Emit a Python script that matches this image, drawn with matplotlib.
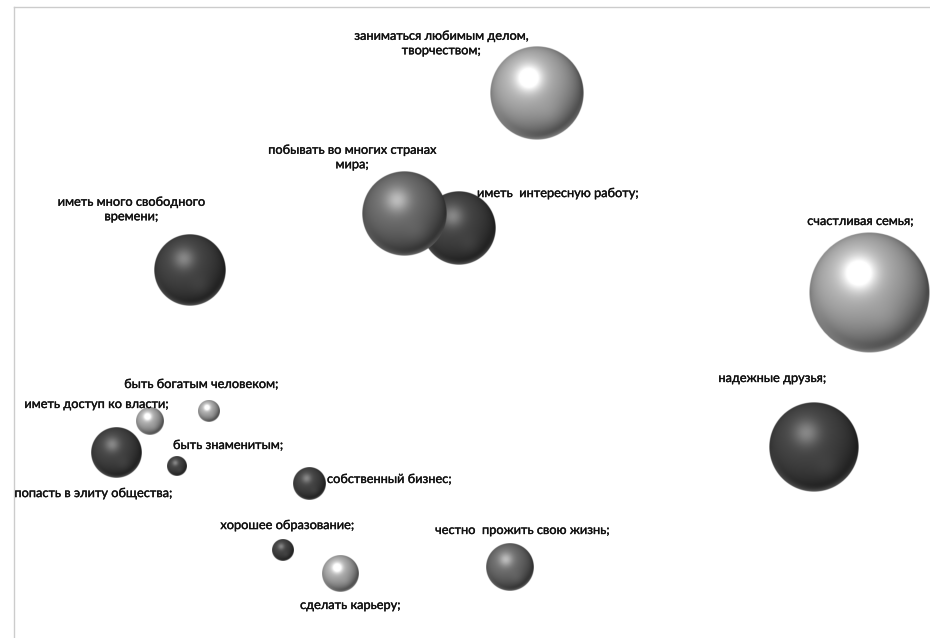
import numpy as np
import matplotlib
matplotlib.use("Agg")
import matplotlib.pyplot as plt
import matplotlib.patheffects as pe

# ---- data ----
labels = [
    "заниматься любимым делом,\nтворчеством;",
    "иметь  интересную работу;",
    "побывать во многих странах\nмира;",
    "иметь много свободного\nвремени;",
    "счастливая семья;",
    "надежные друзья;",
    "честно  прожить свою жизнь;",
    "быть богатым человеком;",
    "иметь доступ ко власти;",
    "попасть в элиту общества;",
    "быть знаменитым;",
    "собственный бизнес;",
    "хорошее образование;",
    "сделать карьеру;",
]
x_vals = [52.3, 44.5, 39.0, 17.6, 85.5, 80.0, 49.6, 19.5, 13.6, 10.2, 16.3, 29.5, 26.9, 32.6]
y_vals = [54.5, 41.0, 42.4, 36.8, 34.5, 19.1, 7.1, 22.7, 21.7, 18.5, 17.2, 15.4, 8.8, 6.4]
sizes = [60.3, 37.4, 48.2, 35.4, 100.0, 55.3, 15.1, 3.3, 5.0, 17.1, 2.7, 7.4, 3.3, 8.9]
tones = ["light", "dark", "mid", "dark", "light", "dark", "mid",
         "light", "light", "dark", "dark", "dark", "dark", "light"]

# ---- styles ----
label_offsets = [  # (dx px, dy px, ha)
    (-96, 50, "center"), (18, 35, "left"), (-52, 57, "center"), (-59, 61, "center"),
    (-9, 72, "center"), (-42, 69, "center"), (12, 37, "center"), (-8, 27, "center"),
    (18, 17, "right"), (-23, -40, "center"), (-4, 21, "left"), (18, 5, "left"),
    (4, 25, "center"), (10, -31, "center"),
]
tone_style = {
    "light": dict(base=0.72, spec=0.48, sw=0.19, diff=0.62),
    "mid": dict(base=0.46, spec=0.28, sw=0.2, diff=0.6),
    "dark": dict(base=0.29, spec=0.24, sw=0.2, diff=0.6),
}
RMAX = 6.05  # radius (data units) for size 100


def sphere_image(st, n=220):
    t = np.linspace(-1, 1, n)
    X, Y = np.meshgrid(t, t)  # Y up (origin lower)
    R2 = X**2 + Y**2
    R = np.sqrt(R2)
    Z = np.sqrt(np.clip(1 - R2, 0, 1))
    L = np.array([-0.28, 0.38, 0.88])
    L = L / np.linalg.norm(L)
    d = np.clip(X * L[0] + Y * L[1] + Z * L[2], 0, 1)
    hx, hy = -0.17, 0.32
    spec = np.exp(-((X - hx)**2 + (Y - hy)**2) / (2 * st["sw"]**2))
    rim = np.clip((R - 0.82) / 0.18, 0, 1)**2 * np.clip(-Y / np.maximum(R, 1e-6), 0, 1)
    sec = np.exp(-((X - 0.3)**2 + (Y + 0.45)**2) / (2 * 0.2**2))
    v = st["base"] * (0.4 + st["diff"] * d) + st["spec"] * spec + 0.25 * rim + 0.04 * sec
    v = np.clip(v, 0, 1)
    alpha = np.clip((1 - R) * n / 2.0, 0, 1)
    return np.dstack([v, v, v, alpha])


fig = plt.figure(figsize=(9.3, 6.38), dpi=100)
ax = fig.add_axes([14 / 930, 0, 916 / 930, 631 / 638])
ax.set_xticks([])
ax.set_yticks([])
for s in ["right", "bottom"]:
    ax.spines[s].set_visible(False)
for s in ["top", "left"]:
    ax.spines[s].set_color("#cccccc")
    ax.spines[s].set_linewidth(1.0)

for i, (x, y, sz, tone) in enumerate(zip(x_vals, y_vals, sizes, tones)):
    r = RMAX * np.sqrt(sz / 100.0)
    img = sphere_image(tone_style[tone])
    ax.imshow(img, extent=[x - r, x + r, y - r, y + r], origin="lower",
              interpolation="bilinear", zorder=2 + i, aspect="auto")

ax.set_xlim(0, 91.6)
ax.set_ylim(0, 63.1)

for lab, x, y, (dx, dy, ha) in zip(labels, x_vals, y_vals, label_offsets):
    ax.annotate(lab, (x, y), xytext=(dx, dy), textcoords="offset pixels",
                ha=ha, va="center", fontsize=9.2, family=["Lato", "DejaVu Sans"],
                color="#111111", linespacing=1.25, zorder=50, annotation_clip=False,
                path_effects=[pe.withStroke(linewidth=0.25, foreground="#111111")])

fig.savefig("out.png", dpi=100)
